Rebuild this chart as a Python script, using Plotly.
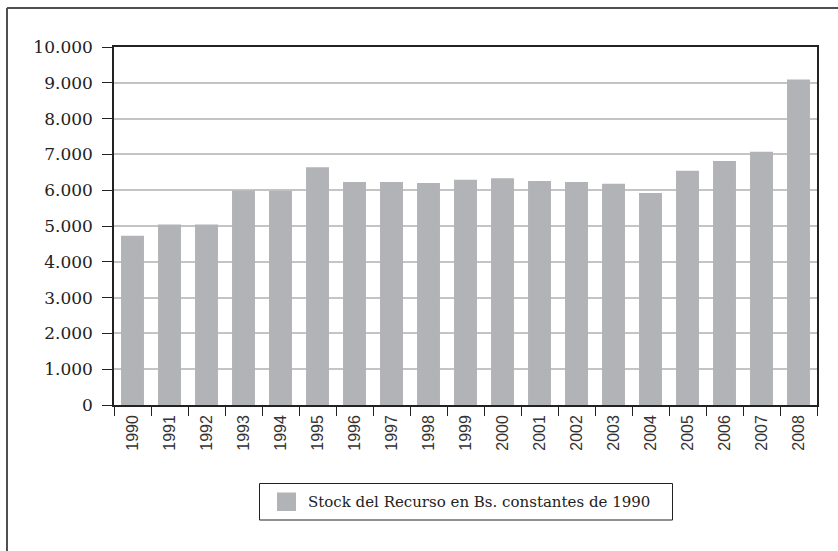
import plotly.graph_objects as go

# Resource stock by year, constant 1990 bolivianos
years = ["1990", "1991", "1992", "1993", "1994", "1995", "1996", "1997", "1998", "1999",
         "2000", "2001", "2002", "2003", "2004", "2005", "2006", "2007", "2008"]
stock = [4730, 5045, 5045, 5990, 5985, 6640, 6227, 6227, 6200, 6291,
         6336, 6255, 6227, 6183, 5920, 6543, 6817, 7073, 9092]
series_name = "Stock del Recurso en Bs. constantes de 1990"

y_ticks = [0, 1000, 2000, 3000, 4000, 5000, 6000, 7000, 8000, 9000, 10000]
y_tick_text = ["0", "1.000", "2.000", "3.000", "4.000", "5.000",
               "6.000", "7.000", "8.000", "9.000", "10.000"]

BAR = "#b2b3b6"
SERIF = "DejaVu Serif"
SANS = "Liberation Sans"

W, H = 838, 551
ML, MR, MT, MB = 114, 21, 47, 146
PW, PH = W - ML - MR, H - MT - MB


def px_x(p):
    return (p - ML) / PW


def px_y(p):
    return (H - MB - p) / PH


fig = go.Figure()
fig.add_trace(go.Bar(
    x=years, y=stock, name=series_name,
    marker=dict(color=BAR, line=dict(width=0)),
    width=0.62, showlegend=False,
))

shapes = [
    # outer frame (left and top edges)
    dict(type="line", xref="paper", yref="paper",
         x0=px_x(7), x1=px_x(7), y0=px_y(8), y1=px_y(H + 5),
         line=dict(color="#505050", width=2)),
    dict(type="line", xref="paper", yref="paper",
         x0=px_x(7), x1=px_x(W + 5), y0=px_y(8), y1=px_y(8),
         line=dict(color="#505050", width=2)),
    # legend box
    dict(type="rect", xref="paper", yref="paper",
         x0=px_x(259.5), x1=px_x(672.5), y0=px_y(483.5), y1=px_y(520),
         line=dict(color="#222222", width=1), fillcolor="white"),
    # legend swatch
    dict(type="rect", xref="paper", yref="paper",
         x0=px_x(277), x1=px_x(296), y0=px_y(492.5), y1=px_y(511),
         line=dict(width=0), fillcolor=BAR),
]

fig.update_layout(
    width=W, height=H,
    margin=dict(l=ML, r=MR, t=MT, b=MB),
    paper_bgcolor="white", plot_bgcolor="white",
    shapes=shapes,
    annotations=[dict(
        xref="paper", yref="paper", x=px_x(306), y=px_y(502),
        xanchor="left", yanchor="middle", showarrow=False,
        text=series_name, font=dict(family=SERIF, size=15, color="#222222"),
    )],
    xaxis=dict(
        type="category", tickson="boundaries", ticks="outside", ticklen=9,
        tickwidth=1.3, tickcolor="#222222", tickangle=-90,
        tickfont=dict(family=SANS, size=16, color="#333333"),
        ticklabelstandoff=2,
        showline=True, linecolor="#222222", linewidth=1.5, mirror=True,
        showgrid=False, range=[-0.5, len(years) - 0.5],
    ),
    yaxis=dict(
        range=[0, 10000], tickvals=y_ticks, ticktext=y_tick_text,
        ticks="outside", ticklen=10, tickwidth=1.3, tickcolor="#222222",
        tickfont=dict(family=SERIF, size=17, color="#222222"),
        ticklabelstandoff=6,
        showline=True, linecolor="#222222", linewidth=1.5, mirror=True,
        showgrid=True, gridcolor="#c4c4c4", gridwidth=1.5, zeroline=False,
    ),
)

fig.write_html("out.html")
